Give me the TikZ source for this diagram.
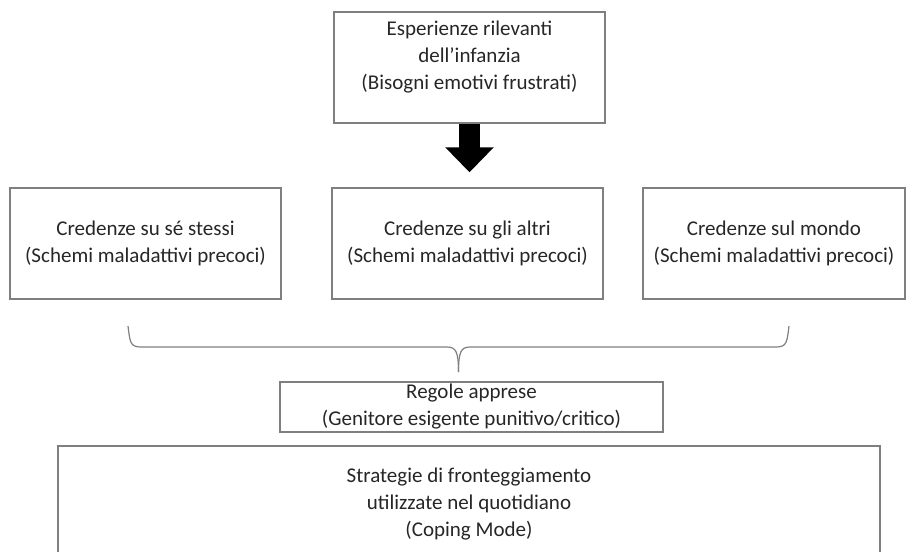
\documentclass[tikz,border=0pt]{standalone}
\usepackage{fontspec}
\setmainfont{Carlito}
\usepackage{xcolor}
\usepackage{tikz}
\definecolor{boxgray}{HTML}{7F7F7F}
\definecolor{textgray}{HTML}{262626}
\usetikzlibrary{arrows.meta, positioning, calc}
\tikzset{
  schemabox/.style={draw=boxgray, line width=1.4pt, inner sep=0pt, text=textgray,
    font=\fontsize{21}{27}\selectfont, align=center},
  bigarrow/.style={line width=21pt, draw=black, -{Triangle[length=25pt, width=47pt]}},
  bracket/.style={draw=boxgray, line width=1.2pt}
}
\begin{document}
\begin{tikzpicture}[x=1pt, y=-1pt]
\useasboundingbox (0,0) rectangle (906,552);
% Top box
\node[schemabox] (infanzia) at (469.5,67.5) {\parbox[c][111pt][t]{271pt}{\centering\vspace{9pt}Esperienze rilevanti\\dell’infanzia\\(Bisogni emotivi frustrati)}};
% Row of beliefs
\node[schemabox, minimum width=271pt, minimum height=111pt] (se) at (145.5,243.5) {Credenze su sé stessi\\(Schemi maladattivi precoci)};
\node[schemabox, minimum width=271pt, minimum height=111pt] (altri) at (467.5,243.5) {Credenze su gli altri\\(Schemi maladattivi precoci)};
\node[schemabox, minimum width=262pt, minimum height=111pt] (mondo) at (774,243.5) {Credenze sul mondo\\(Schemi maladattivi precoci)};
% Rules and coping
\node[schemabox, minimum width=383pt, minimum height=50pt] (regole) at (471.5,407) {Regole apprese\\(Genitore esigente punitivo/critico)};
\node[schemabox] (coping) at (469,503) {\parbox[c][114pt][t]{822pt}{\centering\vspace{22pt}Strategie di fronteggiamento\\utilizzate nel quotidiano\\(Coping Mode)}};
% Draw block arrow
\draw[bigarrow, shorten >=15pt] (infanzia.south) -- (infanzia.south |- altri.north);
% Draw brace
\coordinate (braceL) at (128,326);
\coordinate (braceR) at (789,326);
\coordinate (braceTip) at (458.5,372);
\draw[bracket] (braceL) .. controls (130,342) and (130,347) .. (141,347) -- (447,347)
  .. controls (456,347) and (458.5,352) .. (braceTip);
\draw[bracket] (braceR) .. controls (787,342) and (787,347) .. (776,347) -- (470,347)
  .. controls (461,347) and (458.5,352) .. (braceTip);
\end{tikzpicture}
\end{document}
